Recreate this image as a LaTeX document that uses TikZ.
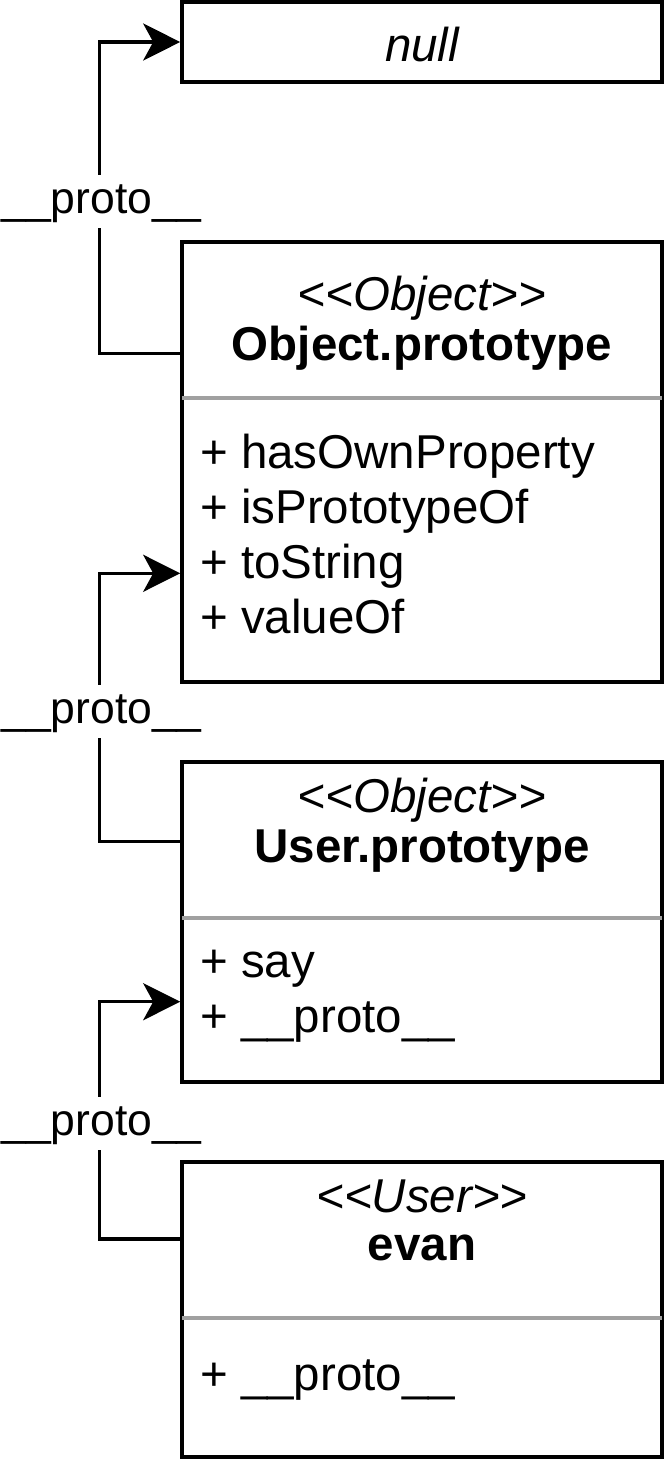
\documentclass[tikz,border=0pt]{standalone}
\usepackage{fontspec}
\setmainfont{Liberation Sans}
\usetikzlibrary{arrows.meta}
\definecolor{sepgray}{RGB}{160,160,160}
\tikzset{
  box/.style={draw=black, line width=3.6pt, rectangle, inner sep=0pt, minimum width=480pt},
  sep/.style={draw=sepgray, line width=3.4pt},
  conn/.style={draw=black, line width=3.4pt, -{Stealth[length=37pt,width=37pt,inset=10pt]}},
  txt/.style={inner sep=0pt, font=\fontsize{47.5}{55}\selectfont},
  attr/.style={txt, anchor=base west},
  head/.style={txt, anchor=base},
  lbl/.style={fill=white, inner sep=0pt, text height=38pt, text depth=15pt, anchor=base,
              font=\fontsize{44.5}{50}\selectfont}
}
\begin{document}
\begin{tikzpicture}[x=1pt,y=-1pt]
\useasboundingbox (0,0) rectangle (664,1460);
% boxes
\node[box, minimum height=80pt]  (null)  at (422,42) {};
\node[box, minimum height=440pt] (objp)  at (422,462) {};
\node[box, minimum height=320pt] (userp) at (422,922) {};
\node[box, minimum height=295pt] (evan)  at (422,1309.5) {};
% separators
\draw[sep] ([xshift=1.8pt]objp.west |- 0,398) -- ([xshift=-1.8pt]objp.east |- 0,398);
\draw[sep] ([xshift=1.8pt]userp.west |- 0,918) -- ([xshift=-1.8pt]userp.east |- 0,918);
\draw[sep] ([xshift=1.8pt]evan.west |- 0,1318) -- ([xshift=-1.8pt]evan.east |- 0,1318);
% texts
\node[head] (tnull) at (422,61.7) {\itshape null};
\node[head] (objst) at (422,310) {\itshape <\kern0pt<Object>\kern0pt>};
\node[head] (objnm) at (422,360) {\bfseries Object.prototype};
\node[attr] (oa1) at (200,468) {+ hasOwnProperty};
\node[attr] (oa2) at (200,523) {+ isPrototypeOf};
\node[attr] (oa3) at (200,578) {+ toString};
\node[attr] (oa4) at (200,633) {+ valueOf};
\node[head] (usst) at (422,812) {\itshape <\kern0pt<Object>\kern0pt>};
\node[head] (usnm) at (422,862) {\bfseries User.prototype};
\node[attr] (ua1) at (200,977) {+ say};
\node[attr] (ua2) at (200,1032) {+ \_\_proto\_\_};
\node[head] (evst) at (422,1212) {\itshape <\kern0pt<User>\kern0pt>};
\node[head] (evnm) at (422,1260) {\bfseries evan};
\node[attr] (ea1) at (200,1390) {+ \_\_proto\_\_};
% connectors
\draw[conn] (objp.west |- 0,353.5) -- ++(-80.5,0) |- (null.west);
\draw[conn] (userp.west |- 0,841.7) -- ++(-80.5,0) |- (objp.west |- 0,573.3);
\draw[conn] (evan.west |- 0,1239) -- ++(-80.5,0) |- (userp.west |- 0,1001.7);
% labels
\node[lbl] (l1) at (101.5,213) {\_\_proto\_\_};
\node[lbl] (l2) at (101.5,723) {\_\_proto\_\_};
\node[lbl] (l3) at (101.5,1135) {\_\_proto\_\_};
\end{tikzpicture}
\end{document}
